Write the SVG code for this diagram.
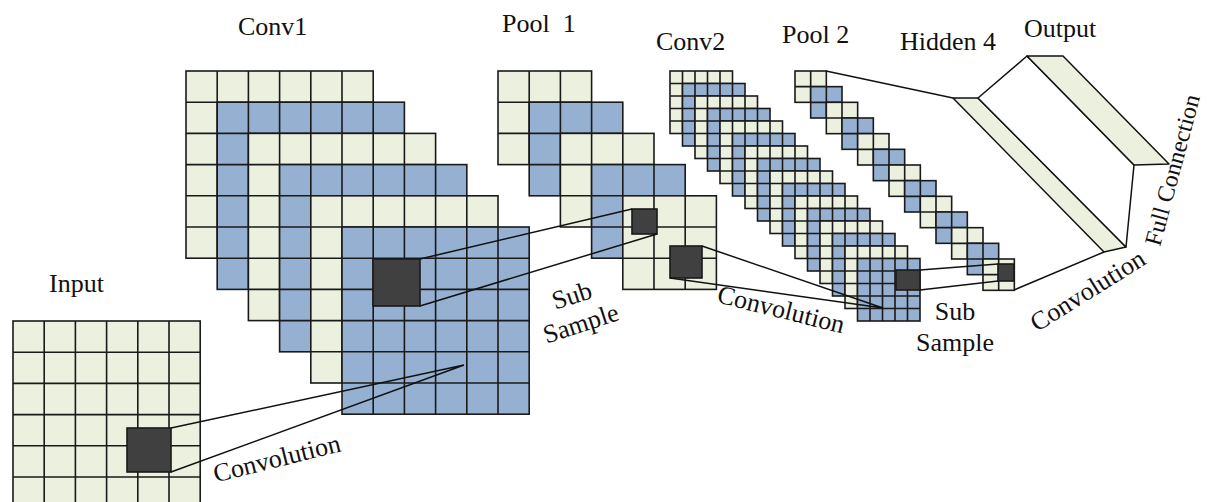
<svg xmlns="http://www.w3.org/2000/svg" xmlns:xlink="http://www.w3.org/1999/xlink" width="1208" height="502" viewBox="0 0 1208 502">
<style>
.L{fill:#EBF0DF}
.B{fill:#95B0D1}
.gs{stroke:#1a1a1a;stroke-width:1.6}
.dk{fill:#404040;stroke:#1a1a1a;stroke-width:1.6}
.cn{stroke:#111;stroke-width:1.5;fill:none}
.sl{stroke:#111;stroke-width:1.5;stroke-linejoin:round}
text{font-family:"Liberation Serif","Times New Roman",serif;font-size:26px;fill:#111;white-space:pre}
</style>
<defs>
<g id="g6" class="gs"><rect width="187.2" height="187.2"/><path fill="none" d="M31.2 0V187.2M62.4 0V187.2M93.6 0V187.2M124.8 0V187.2M156 0V187.2M0 31.2H187.2M0 62.4H187.2M0 93.6H187.2M0 124.8H187.2M0 156H187.2"/></g>
<g id="g3" class="gs"><rect width="93.6" height="93.6"/><path fill="none" d="M31.2 0V93.6M62.4 0V93.6M0 31.2H93.6M0 62.4H93.6"/></g>
<g id="g5" class="gs"><rect width="62.5" height="62.5"/><path fill="none" d="M12.5 0V62.5M25 0V62.5M37.5 0V62.5M50 0V62.5M0 12.5H62.5M0 25H62.5M0 37.5H62.5M0 50H62.5"/></g>
<g id="g2" class="gs"><rect width="31.33" height="31.33"/><path fill="none" d="M15.67 0V31.33M0 15.67H31.33"/></g>
</defs>
<rect width="1208" height="502" fill="#fff"/>

<g id="input">
<use xlink:href="#g6" x="13" y="321" class="L"/>
<rect class="dk" x="127" y="428" width="44" height="44"/>
<text x="49" y="292">Input</text>
</g>

<g id="conv1">
<use xlink:href="#g6" x="186" y="71" class="L"/>
<use xlink:href="#g6" x="217.2" y="102.2" class="B"/>
<use xlink:href="#g6" x="248.4" y="133.4" class="L"/>
<use xlink:href="#g6" x="279.6" y="164.6" class="B"/>
<use xlink:href="#g6" x="310.8" y="195.8" class="L"/>
<use xlink:href="#g6" x="342" y="227" class="B"/>
<rect class="dk" x="373" y="259" width="47" height="47"/>
<text x="238" y="35">Conv1</text>
</g>

<g id="pool1">
<use xlink:href="#g3" x="498" y="71" class="L"/>
<use xlink:href="#g3" x="529.2" y="102.2" class="B"/>
<use xlink:href="#g3" x="560.4" y="133.4" class="L"/>
<use xlink:href="#g3" x="591.6" y="164.6" class="B"/>
<use xlink:href="#g3" x="622.8" y="195.8" class="L"/>
<rect class="dk" x="632" y="209" width="25" height="25"/>
<rect class="dk" x="670" y="246" width="32" height="32"/>
<text x="502" y="32">Pool  1</text>
</g>

<g id="conv2">
<use xlink:href="#g5" x="670" y="71" class="L"/>
<use xlink:href="#g5" x="682.5" y="83.5" class="B"/>
<use xlink:href="#g5" x="695" y="96" class="L"/>
<use xlink:href="#g5" x="707.5" y="108.5" class="B"/>
<use xlink:href="#g5" x="720" y="121" class="L"/>
<use xlink:href="#g5" x="732.5" y="133.5" class="B"/>
<use xlink:href="#g5" x="745" y="146" class="L"/>
<use xlink:href="#g5" x="757.5" y="158.5" class="B"/>
<use xlink:href="#g5" x="770" y="171" class="L"/>
<use xlink:href="#g5" x="782.5" y="183.5" class="B"/>
<use xlink:href="#g5" x="795" y="196" class="L"/>
<use xlink:href="#g5" x="807.5" y="208.5" class="B"/>
<use xlink:href="#g5" x="820" y="221" class="L"/>
<use xlink:href="#g5" x="832.5" y="233.5" class="B"/>
<use xlink:href="#g5" x="845" y="246" class="L"/>
<use xlink:href="#g5" x="857.5" y="258.5" class="B"/>
<rect class="dk" x="896" y="270" width="24" height="20"/>
<text x="656" y="50">Conv2</text>
</g>

<g id="pool2">
<use xlink:href="#g2" x="795" y="71" class="L"/>
<use xlink:href="#g2" x="810.67" y="86.67" class="B"/>
<use xlink:href="#g2" x="826.33" y="102.33" class="L"/>
<use xlink:href="#g2" x="842" y="118" class="B"/>
<use xlink:href="#g2" x="857.67" y="133.67" class="L"/>
<use xlink:href="#g2" x="873.33" y="149.33" class="B"/>
<use xlink:href="#g2" x="889" y="165" class="L"/>
<use xlink:href="#g2" x="904.67" y="180.67" class="B"/>
<use xlink:href="#g2" x="920.33" y="196.33" class="L"/>
<use xlink:href="#g2" x="936" y="212" class="B"/>
<use xlink:href="#g2" x="951.67" y="227.67" class="L"/>
<use xlink:href="#g2" x="967.33" y="243.33" class="B"/>
<use xlink:href="#g2" x="983" y="259" class="L"/>
<rect class="dk" x="998" y="264" width="16" height="17"/>
<text x="782" y="43">Pool 2</text>
</g>

<g id="hidden4">
<polygon class="sl L" points="953,98 978,98 1126,247 1104,252"/>
<text x="900" y="50">Hidden 4</text>
</g>

<g id="output">
<polygon class="sl" fill="#fff" points="978,98 1027,56 1134,165 1126,247"/>
<polygon class="sl L" points="1027,56 1063,56 1169,164 1134,165"/>
<text x="1024" y="37">Output</text>
</g>

<g id="connectors">
<path class="cn" d="M171 428L464 365M171 472L464 365"/>
<path class="cn" d="M420 259L632 209M420 306L657 234"/>
<path class="cn" d="M702 246L883 308M670 278L883 308"/>
<path class="cn" d="M920 270L998 264M920 290L998 281"/>
<path class="cn" d="M826 71L953 98M1014 290L1104 252"/>
</g>

<g id="labels">
<text text-anchor="middle" transform="translate(277,459) rotate(-14)" y="8">Convolution</text>
<text text-anchor="middle" transform="translate(572,296) rotate(-18)" y="8">Sub</text>
<text text-anchor="middle" transform="translate(581,324) rotate(-18)" y="8">Sample</text>
<text text-anchor="middle" transform="translate(781,310) rotate(14)" y="8">Convolution</text>
<text text-anchor="middle" x="955" y="320">Sub</text>
<text text-anchor="middle" x="955" y="351">Sample</text>
<text text-anchor="middle" transform="translate(1088,291) rotate(-32)" y="8">Convolution</text>
<text transform="translate(1160,247) rotate(-75)" style="font-size:24px">Full Connection</text>
</g>
</svg>
